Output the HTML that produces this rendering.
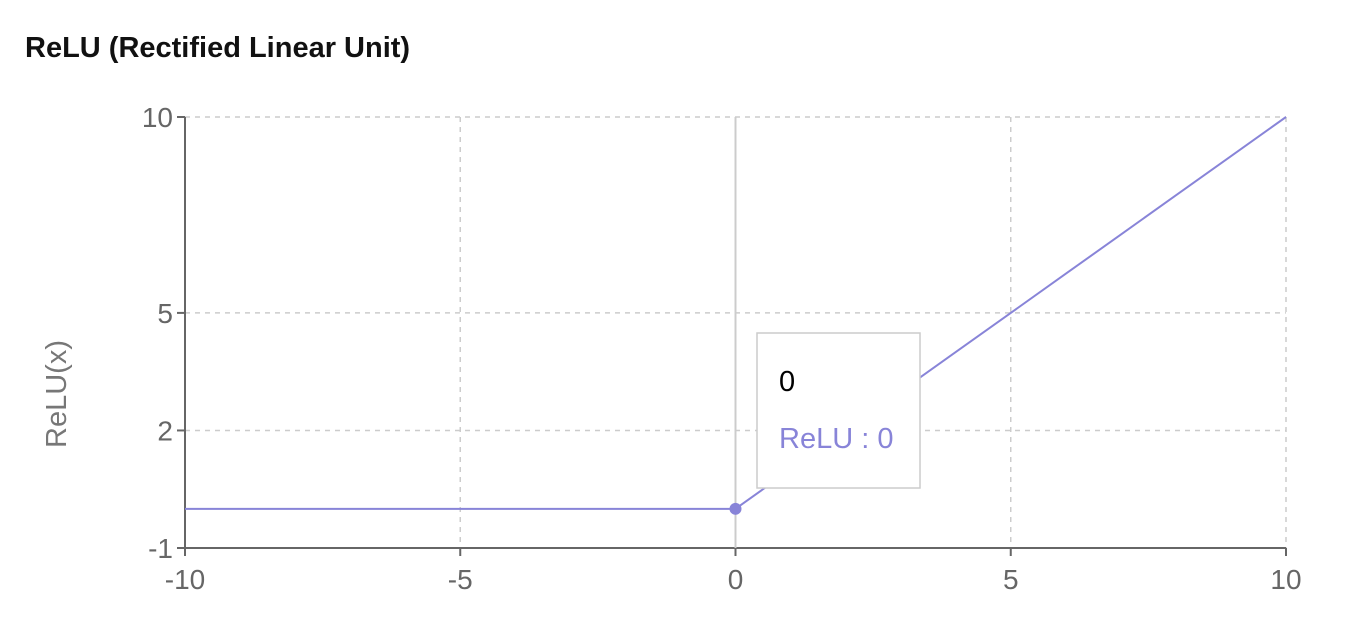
<!DOCTYPE html>
<html><head><meta charset="utf-8"><style>
body{margin:0;background:#fff;font-family:"Liberation Sans",sans-serif;}
svg{position:absolute;left:0;top:0}
</style></head><body>
<svg width="1356" height="632">
<text x="25" y="57" font-size="29" font-weight="bold" fill="#111">ReLU (Rectified Linear Unit)</text>
<g id="grid"></g>
<g id="axes"></g>
<line id="cursor" stroke="#ccc" stroke-width="2"/>
<polyline id="line" fill="none" stroke="#8884d8" stroke-width="2"/>
<circle id="dot" r="6" fill="#8884d8"/>
<text transform="translate(66,394) rotate(-90)" text-anchor="middle" font-size="29" fill="#777">ReLU(x)</text>
<g>
<rect x="757" y="333" width="163" height="155" fill="#fff" stroke="#ccc" stroke-width="1.5"/>
<text x="779" y="391" font-size="29" fill="#000">0</text>
<text x="779" y="448" font-size="29" fill="#8884d8">ReLU : 0</text>
</g>
</svg>
<script>
const xValues=[-10,-9,-8,-7,-6,-5,-4,-3,-2,-1,0,1,2,3,4,5,6,7,8,9,10];
const yValues=[0,0,0,0,0,0,0,0,0,0,0,1,2,3,4,5,6,7,8,9,10];
const xTicks=[-10,-5,0,5,10];
const yTicks=[-1,2,5,10];
const activeIndex=10;
const L=185,R=1286,T=117,B=548;
const sx=v=>L+(v+10)/20*(R-L);
const sy=v=>B-(v+1)/11*(B-T);
const NS="http://www.w3.org/2000/svg";
const grid=document.getElementById('grid'),axes=document.getElementById('axes');
function mk(p,tag,attrs){const e=document.createElementNS(NS,tag);for(const k in attrs)e.setAttribute(k,attrs[k]);p.appendChild(e);return e;}
xTicks.forEach(t=>{if(t!==-10){const g=mk(grid,'line',{x1:sx(t),x2:sx(t),y1:T,y2:B,stroke:'#ccc','stroke-dasharray':'5 5','stroke-width':1.5});

}
const tk=mk(axes,'line',{x1:sx(t),x2:sx(t),y1:B,y2:B+8,stroke:'#666','stroke-width':2});


const tx=mk(axes,'text',{x:sx(t),y:B+41,'text-anchor':'middle','font-size':28,fill:'#666'});tx.textContent=t;

});
yTicks.forEach(t=>{if(t!==-1){const g=mk(grid,'line',{x1:L,x2:R,y1:sy(t),y2:sy(t),stroke:'#ccc','stroke-dasharray':'5 5','stroke-width':1.5});

}
const tk=mk(axes,'line',{x1:L-8,x2:L,y1:sy(t),y2:sy(t),stroke:'#666','stroke-width':2});


const tx=mk(axes,'text',{x:L-12,y:sy(t)+10,'text-anchor':'end','font-size':28,fill:'#666'});tx.textContent=t;

});
const ax=mk(axes,'line',{x1:L,x2:L,y1:T,y2:B,stroke:'#666','stroke-width':2});


const bx=mk(axes,'line',{x1:L,x2:R,y1:B,y2:B,stroke:'#666','stroke-width':2});


document.getElementById('line').setAttribute('points',xValues.map((x,i)=>sx(x)+','+sy(yValues[i])).join(' '));
const c=document.getElementById('cursor');c.setAttribute('x1',sx(xValues[activeIndex]));c.setAttribute('x2',sx(xValues[activeIndex]));c.setAttribute('y1',T);c.setAttribute('y2',B);
const d=document.getElementById('dot');d.setAttribute('cx',sx(xValues[activeIndex]));d.setAttribute('cy',sy(yValues[activeIndex]));
</script>
</body></html>
